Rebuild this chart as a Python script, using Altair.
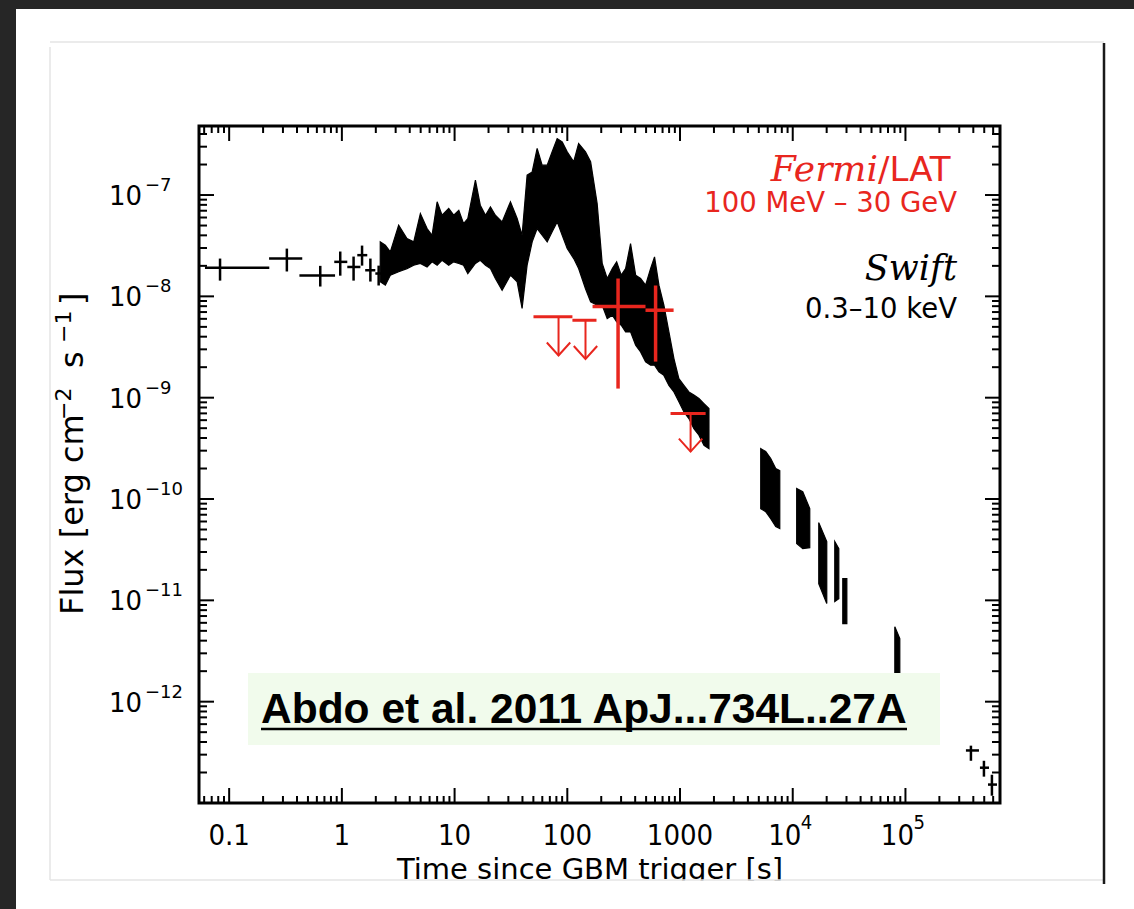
import math
import altair as alt
import pandas as pd

# ---------------- data ----------------
# Swift XRT dense light curve: envelope (lower / upper flux) versus time [s]
band_t = [2.19, 2.43, 2.69, 3.19, 3.78, 4.34, 4.97, 5.70, 6.31, 7.00,
          7.74, 8.87, 9.82, 10.9, 12.0, 13.1, 15.3, 16.9, 18.8, 20.8,
          23.0, 26.4, 31.3, 35.9, 39.7, 44.0, 48.8, 54.0, 59.8, 66.3,
          73.4, 81.3, 90.1, 99.8, 114, 126, 145, 161, 184, 204,
          226, 251, 274, 301, 329, 364, 404, 447, 495, 548,
          594, 650, 719, 797, 883, 977, 1083, 1199, 1328, 1472,
          1631, 1806]
band_hi = [3.45e-8, 3.19e-8, 2.75e-8, 5.04e-8, 3.72e-8, 3.45e-8, 6.57e-8, 4.67e-8, 4.01e-8, 8.57e-8,
           6.32e-8, 7.36e-8, 6.32e-8, 7.08e-8, 5.23e-8, 5.86e-8, 1.40e-7, 7.93e-8, 6.32e-8, 7.65e-8,
           6.32e-8, 5.43e-8, 8.57e-8, 5.86e-8, 4.01e-8, 1.57e-7, 1.69e-7, 2.88e-7, 1.97e-7, 1.97e-7,
           2.67e-7, 3.61e-7, 3.35e-7, 2.67e-7, 2.13e-7, 3.22e-7, 2.67e-7, 2.13e-7, 8.24e-8, 2.11e-8,
           1.50e-8, 1.88e-8, 2.19e-8, 1.62e-8, 1.88e-8, 3.32e-8, 1.62e-8, 1.50e-8, 1.29e-8, 1.88e-8,
           2.45e-8, 1.29e-8, 8.17e-9, 4.46e-9, 2.43e-9, 1.54e-9, 1.32e-9, 1.14e-9, 1.06e-9, 9.80e-10,
           8.75e-10, 7.80e-10]
band_lo = [1.39e-8, 1.29e-8, 1.62e-8, 1.75e-8, 1.88e-8, 2.03e-8, 2.11e-8, 1.95e-8, 2.19e-8, 2.03e-8,
           2.27e-8, 2.03e-8, 2.19e-8, 2.11e-8, 2.03e-8, 1.68e-8, 2.11e-8, 2.27e-8, 2.03e-8, 1.88e-8,
           1.50e-8, 1.15e-8, 1.62e-8, 1.39e-8, 7.59e-9, 2.03e-8, 3.45e-8, 4.67e-8, 4.01e-8, 3.45e-8,
           4.34e-8, 5.43e-8, 4.01e-8, 2.96e-8, 2.36e-8, 1.88e-8, 1.19e-8, 8.83e-9, 8.17e-9, 8.17e-9,
           6.04e-9, 6.51e-9, 5.60e-9, 5.19e-9, 4.46e-9, 4.46e-9, 3.29e-9, 2.83e-9, 2.26e-9, 2.09e-9,
           2.09e-9, 1.80e-9, 1.66e-9, 1.32e-9, 1.14e-9, 9.10e-10, 7.24e-10, 6.22e-10, 4.95e-10, 4.26e-10,
           3.39e-10, 3.15e-10]

# later Swift orbits (each a short block)
late_seg = [1, 1, 1, 1, 1, 2, 2, 2, 3, 3, 4, 4, 5, 5, 6, 6]
late_t = [5200, 5754, 6378, 7063, 7674, 10840, 12270, 14160, 17020, 20040,
          23600, 25630, 27800, 30200, 80500, 89100]
late_hi = [3.14e-10, 2.94e-10, 2.51e-10, 2.00e-10, 1.91e-10, 1.27e-10, 1.18e-10, 8.04e-11,
           5.85e-11, 3.80e-11, 3.80e-11, 3.24e-11, 1.64e-11, 1.64e-11, 5.50e-12, 4.19e-12]
late_lo = [8.04e-11, 7.51e-11, 6.40e-11, 5.34e-11, 5.11e-11, 3.63e-11, 3.24e-11, 3.31e-11,
           1.46e-11, 9.29e-12, 9.71e-12, 1.04e-11, 5.89e-12, 5.89e-12, 1.69e-12, 1.69e-12]

# individual Swift points with error bars
sw_t = [0.083, 0.325, 0.643, 0.967, 1.27, 1.51, 1.79, 2.12, 3.81e5, 4.97e5, 5.85e5]
sw_t_lo = [0.061, 0.226, 0.42, 0.856, 1.117, 1.37, 1.61, 1.98, 3.44e5, 4.58e5, 5.40e5]
sw_t_hi = [0.227, 0.445, 0.87, 1.117, 1.46, 1.68, 1.98, 2.29, 4.49e5, 5.51e5, 6.49e5]
sw_f = [1.92e-8, 2.36e-8, 1.61e-8, 2.19e-8, 1.95e-8, 2.55e-8, 1.81e-8, 1.68e-8, 3.30e-13, 2.23e-13, 1.52e-13]
sw_f_lo = [1.43e-8, 1.76e-8, 1.25e-8, 1.60e-8, 1.43e-8, 2.01e-8, 1.40e-8, 1.28e-8, 2.61e-13, 1.82e-13, 1.18e-13]
sw_f_hi = [2.36e-8, 2.96e-8, 2.00e-8, 2.77e-8, 2.47e-8, 3.17e-8, 2.36e-8, 2.01e-8, 3.68e-13, 2.61e-13, 1.90e-13]

# Fermi/LAT detections
lat_t = [282, 607]
lat_t_lo = [167.5, 494]
lat_t_hi = [494, 877]
lat_f = [7.93e-9, 7.30e-9]
lat_f_lo = [1.23e-9, 2.27e-9]
lat_f_hi = [1.50e-8, 1.28e-8]
# Fermi/LAT upper limits
ul_t = [83.6, 145, 1241]
ul_t_lo = [50.1, 111, 824]
ul_t_hi = [111, 181.5, 1687]
ul_f = [6.28e-9, 5.81e-9, 6.97e-10]
ul_arrow_end = [2.61e-9, 2.41e-9, 2.94e-10]

# tick labels: base text and superscript exponent
x_label_vals = [0.1, 1, 10, 100, 1000, 1e4, 1e5]
x_label_base = ["0.1", "1", "10", "100", "1000", "10", "10"]
x_label_exp = ["", "", "", "", "", "4", "5"]
y_label_vals = [1e-12, 1e-11, 1e-10, 1e-9, 1e-8, 1e-7]
y_label_base = ["10", "10", "10", "10", "10", "10"]
y_label_exp = ["−12", "−11", "−10", "−9", "−8", "−7"]

x_title = "Time since GBM trigger [s]"
y_title_parts = ["Flux [erg cm", "−2", "s", "−1", "]"]
lat_name = "Fermi"
lat_inst = "/LAT"
lat_band = "100 MeV – 30 GeV"
sw_name = "Swift"
sw_band = "0.3–10 keV"
ref_text = "Abdo et al. 2011 ApJ...734L..27A"

# ---------------- layout ----------------
W, H = 801, 677
PL, PT = 199, 126
TOTW, TOTH = 1134, 909
XDOM = [0.054, 6.9e5]
YDOM = [1e-13, 4.8e-7]
RED = "#e8261e"
SANS = "DejaVu Sans"
SERIF = "DejaVu Serif"
NARROW = "Liberation Sans Narrow, DejaVu Sans Condensed, Liberation Sans"

xs = alt.Scale(type="log", domain=XDOM, nice=False)
ys = alt.Scale(type="log", domain=YDOM, nice=False)


def X(f):
    return alt.X(f, type="quantitative", scale=xs, axis=None)


def Y(f):
    return alt.Y(f, type="quantitative", scale=ys, axis=None)


one = pd.DataFrame({"a": [0]})


def prect(x, x2, y, y2, color):
    return alt.Chart(one).mark_rect(color=color, clip=False).encode(
        x=alt.value(x), x2=alt.value(x2), y=alt.value(y), y2=alt.value(y2))


def prule(x, x2, y, y2, color, w):
    return alt.Chart(one).mark_rule(color=color, strokeWidth=w, clip=False).encode(
        x=alt.value(x), x2=alt.value(x2), y=alt.value(y), y2=alt.value(y2))


def ptext(txt, x, y, size, color, font, align="left", style="normal", weight="normal",
          angle=0, baseline="alphabetic"):
    return alt.Chart(pd.DataFrame({"s": [txt]})).mark_text(
        align=align, baseline=baseline, fontSize=size, color=color, font=font,
        fontStyle=style, fontWeight=weight, angle=angle, clip=False).encode(
        x=alt.value(x), y=alt.value(y), text="s:N")


# ---------------- slide background ----------------
bg = [
    prect(-PL, TOTW - PL, -PT, -PT + 9, "#262626"),
    prect(-PL, -PL + 16, -PT, TOTH - PT, "#262626"),
    prule(50 - PL, 1104 - PL, 42 - PT, 42 - PT, "#e4e4e4", 1.5),
    prule(50 - PL, 50 - PL, 47 - PT, 880 - PT, "#e4e4e4", 1.5),
]

# ---------------- data layers ----------------
band_df = pd.DataFrame({"t": band_t + late_t, "lo": band_lo + late_lo, "hi": band_hi + late_hi,
                        "seg": [0] * len(band_t) + late_seg})
band = alt.Chart(band_df).mark_area(color="black", stroke="black", strokeWidth=1.2,
                                    clip=True).encode(
    x=X("t"), y=Y("lo"), y2="hi:Q", detail="seg:N")

sw_df = pd.DataFrame({"t": sw_t, "tlo": sw_t_lo, "thi": sw_t_hi,
                      "f": sw_f, "flo": sw_f_lo, "fhi": sw_f_hi})
sw_h = alt.Chart(sw_df).mark_rule(color="black", strokeWidth=2.5, clip=True).encode(
    x=X("tlo"), x2="thi:Q", y=Y("f"))
sw_v = alt.Chart(sw_df).mark_rule(color="black", strokeWidth=2.5, clip=True).encode(
    x=X("t"), y=Y("flo"), y2="fhi:Q")

lat_df = pd.DataFrame({"t": lat_t, "tlo": lat_t_lo, "thi": lat_t_hi,
                       "f": lat_f, "flo": lat_f_lo, "fhi": lat_f_hi})
lat_h = alt.Chart(lat_df).mark_rule(color=RED, strokeWidth=3.5, clip=True).encode(
    x=X("tlo"), x2="thi:Q", y=Y("f"))
lat_v = alt.Chart(lat_df).mark_rule(color=RED, strokeWidth=3.5, clip=True).encode(
    x=X("t"), y=Y("flo"), y2="fhi:Q")

ul_df = pd.DataFrame({"t": ul_t, "tlo": ul_t_lo, "thi": ul_t_hi, "f": ul_f, "e": ul_arrow_end})
ul_h = alt.Chart(ul_df).mark_rule(color=RED, strokeWidth=3, clip=True).encode(
    x=X("tlo"), x2="thi:Q", y=Y("f"))
ul_v = alt.Chart(ul_df).mark_rule(color=RED, strokeWidth=2, clip=True).encode(
    x=X("t"), y=Y("e"), y2="f:Q")
ul_head = alt.Chart(ul_df).mark_point(shape="M -0.9 -1 L 0 0 L 0.9 -1", filled=False,
                                      color=RED, strokeWidth=2, size=676, opacity=1,
                                      clip=True).encode(x=X("t"), y=Y("e"))

# ---------------- inward IDL-style ticks ----------------
x_major = x_label_vals
x_minor = [k * 10.0 ** e for e in range(-2, 6) for k in range(2, 10)
           if XDOM[0] < k * 10.0 ** e < XDOM[1]]
y_major = [1e-13] + y_label_vals
y_minor = [k * 10.0 ** e for e in range(-13, -6) for k in range(2, 10)
           if YDOM[0] < k * 10.0 ** e < YDOM[1]]


def xt(vals, ln, top):
    d = pd.DataFrame({"v": vals})
    yy = (alt.value(0), alt.value(ln)) if top else (alt.value(H), alt.value(H - ln))
    return alt.Chart(d).mark_rule(color="black", strokeWidth=2).encode(
        x=X("v"), y=yy[0], y2=yy[1])


def yt(vals, ln, right):
    d = pd.DataFrame({"v": vals})
    xx = (alt.value(W), alt.value(W - ln)) if right else (alt.value(0), alt.value(ln))
    return alt.Chart(d).mark_rule(color="black", strokeWidth=2).encode(
        y=Y("v"), x=xx[0], x2=xx[1])


ticks = [xt(x_major, 15, False), xt(x_minor, 7, False), xt(x_major, 15, True), xt(x_minor, 7, True),
         yt(y_major, 15, False), yt(y_minor, 8, False), yt(y_major, 15, True), yt(y_minor, 8, True)]

# ---------------- tick labels (with real superscripts) ----------------
xl_df = pd.DataFrame({"v": x_label_vals, "b": x_label_base, "e": x_label_exp,
                      "has": [1 if e else 0 for e in x_label_exp]})
xl_plain = alt.Chart(xl_df).transform_filter("datum.has == 0").mark_text(
    align="center", baseline="alphabetic", font=NARROW, fontSize=29, color="black",
    clip=False).encode(x=X("v"), y=alt.value(H + 42), text="b:N")
xl_base = alt.Chart(xl_df).transform_filter("datum.has == 1").mark_text(
    align="center", baseline="alphabetic", font=NARROW, fontSize=29, color="black",
    dx=-8, clip=False).encode(x=X("v"), y=alt.value(H + 42), text="b:N")
xl_exp = alt.Chart(xl_df).transform_filter("datum.has == 1").mark_text(
    align="left", baseline="alphabetic", font=NARROW, fontSize=20, color="black",
    dx=8, clip=False).encode(x=X("v"), y=alt.value(H + 26), text="e:N")

yl_df = pd.DataFrame({"v": y_label_vals, "b": y_label_base, "e": y_label_exp})
yl_base = alt.Chart(yl_df).mark_text(
    align="left", baseline="alphabetic", font=SANS, fontSize=26, color="black",
    dy=10, clip=False).encode(x=alt.value(109 - PL), y=Y("v"), text="b:N")
yl_exp = alt.Chart(yl_df).mark_text(
    align="left", baseline="alphabetic", font=SANS, fontSize=18, color="black",
    dy=-4, clip=False).encode(x=alt.value(145 - PL), y=Y("v"), text="e:N")

# ---------------- annotations ----------------
ann = [
    ptext(lat_name, 679, 55, 36, RED, SERIF, align="right", style="italic"),
    ptext(lat_inst, 679, 55, 34, RED, SANS, align="left"),
    ptext(lat_band, 758, 86, 27.5, RED, SANS, align="right"),
    ptext(sw_name, 758, 154, 35, "black", SERIF, align="right", style="italic"),
    ptext(sw_band, 758, 192, 27.5, "black", SANS, align="right"),
    prect(248 - PL, 940 - PL, 673 - PT, 745 - PT, "#f1fbec"),
    ptext(ref_text, 261 - PL, 723 - PT, 42.5, "black", "Liberation Sans", weight="bold"),
    prule(261 - PL, 907 - PL, 729 - PT, 729 - PT, "black", 2.5),
    ptext(x_title, 590 - PL, 879 - PT, 29, "black", SANS, align="center"),
    # rotated y title in pieces (main text and superscripts)
    ptext(y_title_parts[0], 83 - PL, 615 - PT, 32, "black", SANS, angle=270),
    ptext(y_title_parts[1], 71 - PL, 420 - PT, 22, "black", SANS, angle=270),
    ptext(y_title_parts[2], 83 - PL, 368 - PT, 32, "black", SANS, angle=270),
    ptext(y_title_parts[3], 71 - PL, 343 - PT, 22, "black", SANS, angle=270),
    ptext(y_title_parts[4], 83 - PL, 305 - PT, 32, "black", SANS, angle=270),
    # slide edge covering the bottom of the axis title
    prect(16 - PL, TOTW - PL, 880.5 - PT, TOTH - PT, "white"),
    prule(50 - PL, 1104 - PL, 880 - PT, 880 - PT, "#e4e4e4", 1.5),
    prule(1104 - PL, 1104 - PL, 43 - PT, 884 - PT, "#1a1a1a", 2.5),
]

chart = alt.layer(
    *bg, band, sw_h, sw_v, lat_h, lat_v, ul_h, ul_v, ul_head, *ticks,
    xl_plain, xl_base, xl_exp, yl_base, yl_exp, *ann
).properties(
    width=W, height=H,
    padding={"left": PL, "top": PT, "right": TOTW - PL - W, "bottom": TOTH - PT - H},
    autosize=alt.AutoSizeParams(type="none"),
    background="white",
).configure_view(stroke="black", strokeWidth=3)

chart.save("out.html", embed_options={"renderer": "svg", "actions": False})
